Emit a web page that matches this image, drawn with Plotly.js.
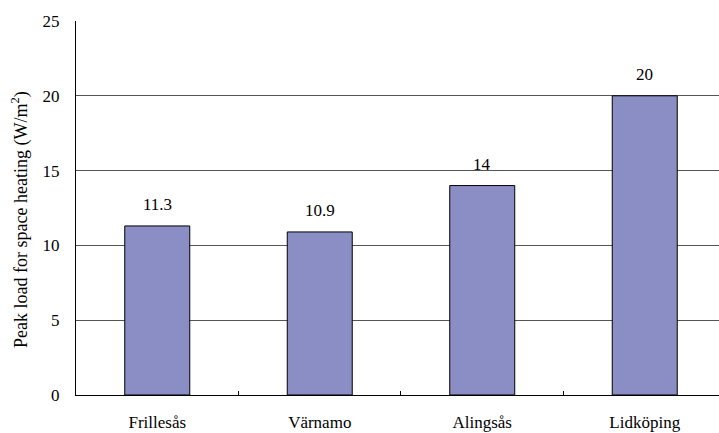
<!DOCTYPE html>
<html><head><meta charset="utf-8">
<script src="https://cdn.plot.ly/plotly-3.0.1.min.js"></script>
<style>html,body{margin:0;padding:0;overflow:hidden;background:#fff}</style>
</head><body><div id="chart" style="width:719px;height:433px"></div>
<script>
const categories = ["Frillesås", "Värnamo", "Alingsås", "Lidköping"];
const peakLoad = [11.3, 10.9, 14, 20];
const valueLabels = ["11.3", "10.9", "14", "20"];
const yTicks = [0, 5, 10, 15, 20, 25];
const yTitle = "Peak load for space heating (W/m<sup>2</sup>)";

const font = "Liberation Serif";
const trace = {
  type: "bar", x: categories, y: peakLoad, width: 0.4,
  marker: {color: "#8a8ec4", line: {color: "#000", width: 1}},
  hoverinfo: "none"
};
const annotations = categories.map((c, i) => ({
  x: c, y: peakLoad[i], text: valueLabels[i], showarrow: false,
  yanchor: "bottom", yshift: 10, font: {family: font, size: 17, color: "#000"}
}));
annotations.push({
  xref: "paper", yref: "paper", x: 0, y: 0.468, xshift: -56,
  xanchor: "center", yanchor: "middle", textangle: -90, showarrow: false,
  text: yTitle, font: {family: font, size: 18, color: "#000"}
});
const layout = {
  width: 719, height: 433,
  margin: {l: 76, r: 0, t: 21, b: 38},
  paper_bgcolor: "#fff", plot_bgcolor: "#fff",
  showlegend: false,
  font: {family: font, color: "#000"},
  xaxis: {
    range: [-0.5, 3.457], showline: true, linecolor: "#000", linewidth: 1,
    ticks: "inside", tickson: "boundaries", ticklen: 4, tickcolor: "#000",
    showgrid: false, tickfont: {family: font, size: 17}, ticklabelstandoff: 12
  },
  yaxis: {
    range: [0, 25], tickvals: yTicks, showline: true, linecolor: "#000", linewidth: 1,
    ticks: "", showgrid: true, gridcolor: "#555", gridwidth: 1, zeroline: false,
    tickfont: {family: font, size: 17}, ticklabelstandoff: 12
  },
  annotations: annotations
};
Plotly.newPlot("chart", [trace], layout, {staticPlot: true, displayModeBar: false});
</script></body></html>
